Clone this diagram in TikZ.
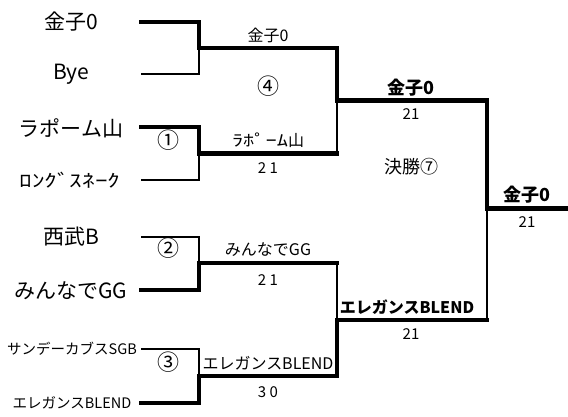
\documentclass[tikz,border=0pt]{standalone}
\usepackage{fontspec}
\setmainfont{Noto Sans CJK JP}[BoldFont={Noto Sans CJK JP Black}]
\newfontfamily\hankaku{Noto Sans CJK JP}[FakeStretch=1.4]

\begin{document}
\begin{tikzpicture}[x=1pt, y=-1pt,
    win/.style={line width=4.5pt, line cap=rect},
    lose/.style={line width=1.3pt},
    team/.style={inner sep=0pt, font=\fontsize{21}{21}\selectfont},
    small team/.style={inner sep=0pt, font=\fontsize{14.5}{14.5}\selectfont},
    result/.style={inner sep=0pt, font=\fontsize{16}{16}\selectfont},
    top result/.style={inner sep=0pt, font=\fontsize{18}{18}\selectfont\bfseries},
    score/.style={inner sep=0pt, font=\fontsize{15}{15}\selectfont},
    game/.style={inner sep=0pt, font=\fontsize{22}{22}\selectfont}]
    \useasboundingbox (0,0) rectangle (568,416);
    % Entry lines
    \coordinate (e1) at (141,22);
    \coordinate (e2) at (141,74);
    \coordinate (e3) at (141,127);
    \coordinate (e4) at (141,180);
    \coordinate (e5) at (141,237);
    \coordinate (e6) at (141,290);
    \coordinate (e7) at (141,349);
    \coordinate (e8) at (141,403);
    % Match points
    \coordinate (r1) at (199,48);
    \coordinate (r2) at (199,153.5);
    \coordinate (r3) at (199,263);
    \coordinate (r4) at (199,376);
    \coordinate (s1) at (337,100.5);
    \coordinate (s2) at (337,320);
    \coordinate (f) at (487,208.5);
    \coordinate (w) at (568,208.5);
    % Teams
    \node[team] (t1) at (71,22) {金子0};
    \node[team] (t2) at (71,74) {Bye};
    \node[team] (t3) at (71,128) {ラポーム山};
    \node[team] (t4) at (70,180) {\hankaku\fontsize{18}{18}\selectfont ﾛﾝｸﾞｽﾈｰｸ};
    \node[team] (t5) at (71,237) {西武B};
    \node[team] (t6) at (71,291) {みんなでGG};
    \node[small team] (t7) at (72,349) {サンデーカブスSGB};
    \node[small team] (t8) at (72,403) {エレガンスBLEND};
    % First round
    \draw[win] (e1) -| (r1);
    \draw[lose] (e2) -| (r1);
    \draw[win] (e3) -| (r2);
    \draw[lose] (e4) -| (r2);
    \draw[lose] (e5) -| (r3);
    \draw[win] (e6) -| (r3);
    \draw[lose] (e7) -| (r4);
    \draw[win] (e8) -| (r4);
    \node[game] (g1) at (168,140) {①};
    \node[game] (g2) at (168,248) {②};
    \node[game] (g3) at (168,362) {③};
    % Second round
    \draw[win] (r1) -| (s1);
    \draw[win] (r2) -- (r2 -| s1);
    \draw[lose] (r2 -| s1) -- (s1);
    \draw[win] (r3) -- (r3 -| s2);
    \draw[lose] (r3 -| s2) -- (s2);
    \draw[win] (r4) -| (s2);
    \node[result] (w1) at (268,35) {金子0};
    \node[game] (g4) at (268,86) {④};
    \node[result] (w2) at (268,140) {\hankaku ﾗﾎﾟｰﾑ\normalfont 山};
    \node[score] (p2) at (268,168) {2 1};
    \node[result] (w3) at (268,250) {みんなでGG};
    \node[score] (p3) at (268,280) {2 1};
    \node[result] (w4) at (268,363) {エレガンスBLEND};
    \node[score] (p4) at (268,392) {3 0};
    % Semi-final and final
    \draw[win] (s1) -| (f);
    \draw[win] (s2) -- (s2 -| f);
    \draw[lose] (s2 -| f) -- (f);
    \draw[win] (f) -- (w);
    \node[top result] (v1) at (411,88) {金子0};
    \node[score] (q1) at (411,114) {21};
    \node[game, font=\fontsize{18}{18}\selectfont] (g7) at (411,167) {決勝⑦};
    \node[top result, font=\fontsize{16}{16}\selectfont\bfseries] (v2) at (407,307) {エレガンスBLEND};
    \node[score] (q2) at (411,334) {21};
    \node[top result] (champ) at (527,195) {金子0};
    \node[score] (q3) at (527,222) {21};
\end{tikzpicture}
\end{document}
